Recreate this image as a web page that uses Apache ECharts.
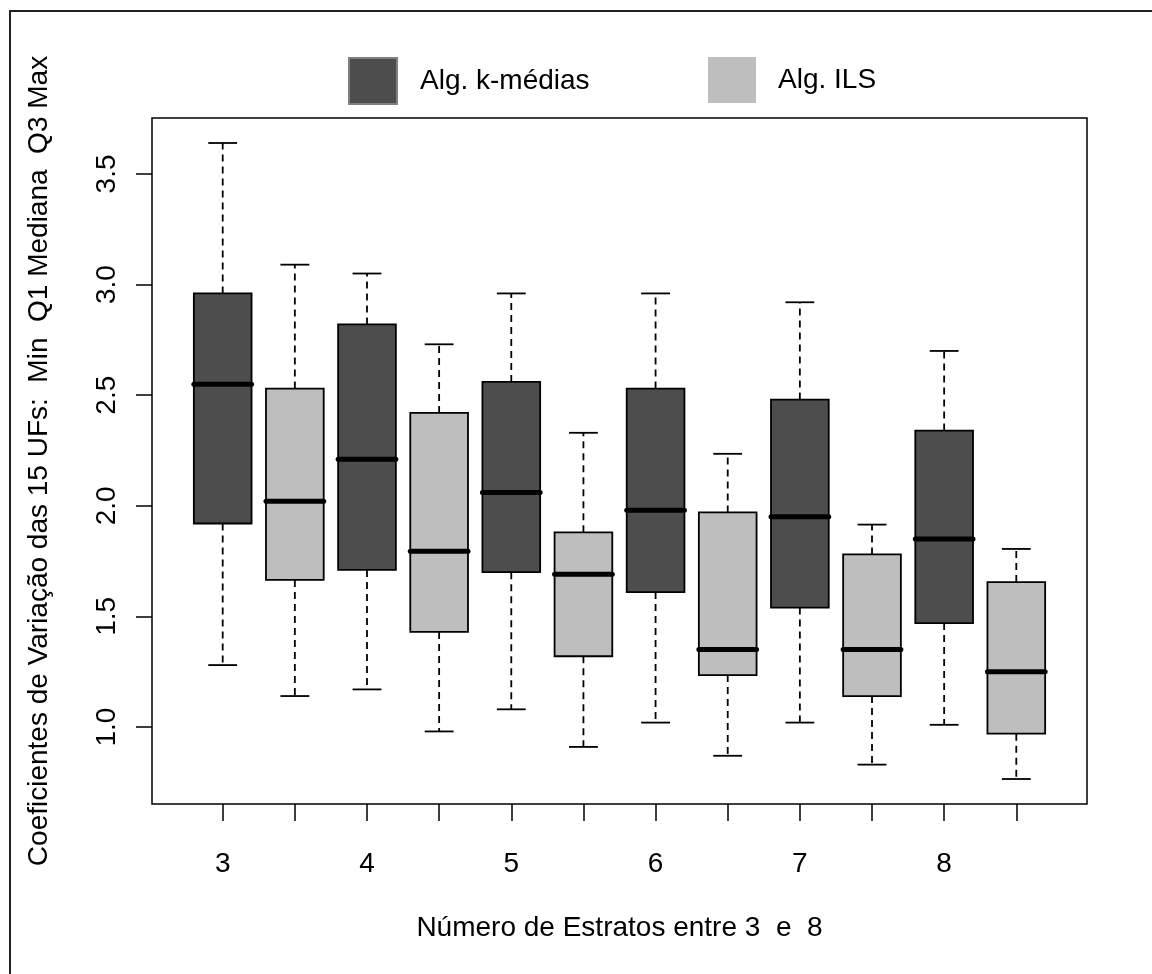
<!DOCTYPE html>
<html>
<head>
<meta charset="utf-8">
<script src="https://cdn.jsdelivr.net/npm/echarts@6/dist/echarts.min.js"></script>
<style>
html,body{margin:0;padding:0;background:#fff;}
#c{width:1152px;height:974px;}
</style>
</head>
<body>
<div id="c"></div>
<script>
// ---- data ----
const categories = ["3", "4", "5", "6", "7", "8"];
const kmMin = [1.28, 1.17, 1.08, 1.02, 1.02, 1.01];
const kmQ1  = [1.92, 1.71, 1.70, 1.61, 1.54, 1.47];
const kmMed = [2.55, 2.21, 2.06, 1.98, 1.95, 1.85];
const kmQ3  = [2.96, 2.82, 2.56, 2.53, 2.48, 2.34];
const kmMax = [3.64, 3.05, 2.96, 2.96, 2.92, 2.70];
const ilsMin = [1.14, 0.98, 0.91, 0.87, 0.83, 0.765];
const ilsQ1  = [1.665, 1.43, 1.32, 1.235, 1.14, 0.97];
const ilsMed = [2.02, 1.795, 1.69, 1.35, 1.35, 1.25];
const ilsQ3  = [2.53, 2.42, 1.88, 1.97, 1.78, 1.655];
const ilsMax = [3.09, 2.73, 2.33, 2.235, 1.915, 1.805];
const yTicks = [1.0, 1.5, 2.0, 2.5, 3.0, 3.5];
const seriesNames = ["Alg. k-médias", "Alg. ILS"];
const yTitle = "Coeficientes de Variação das 15 UFs:  Min  Q1 Mediana  Q3 Max";
const xTitle = "Número de Estratos entre 3  e  8";

// ---- build ----
const boxPositions = [];
for (let i = 1; i <= categories.length * 2; i++) boxPositions.push(i);
const kmData = categories.map((c, i) => [2 * i + 1, kmMin[i], kmQ1[i], kmMed[i], kmQ3[i], kmMax[i]]);
const ilsData = categories.map((c, i) => [2 * i + 2, ilsMin[i], ilsQ1[i], ilsMed[i], ilsQ3[i], ilsMax[i]]);
const labelPositions = categories.map((c, i) => 2 * i + 1);

const FONT = '"Liberation Sans", Arial, sans-serif';
const FS = 28;

function renderBox(params, api) {
  const x = api.value(0);
  const vmin = api.value(1), q1 = api.value(2), med = api.value(3), q3 = api.value(4), vmax = api.value(5);
  const c = (xx, yy) => api.coord([xx, yy]);
  const halfW = 0.4, capW = 0.2;
  const fill = api.visual('color');
  const pL = c(x - halfW, q3), pR = c(x + halfW, q1);
  const dash = { stroke: '#000', lineWidth: 1.8, lineDash: [7, 5] };
  const solid = { stroke: '#000', lineWidth: 1.8 };
  const pMax = c(x, vmax), pQ3 = c(x, q3), pQ1 = c(x, q1), pMin = c(x, vmin);
  const capL1 = c(x - capW, vmax), capR1 = c(x + capW, vmax);
  const capL2 = c(x - capW, vmin), capR2 = c(x + capW, vmin);
  const mL = c(x - halfW, med), mR = c(x + halfW, med);
  return {
    type: 'group',
    children: [
      { type: 'line', shape: { x1: pQ3[0], y1: pQ3[1], x2: pMax[0], y2: pMax[1] }, style: dash },
      { type: 'line', shape: { x1: pQ1[0], y1: pQ1[1], x2: pMin[0], y2: pMin[1] }, style: dash },
      { type: 'line', shape: { x1: capL1[0], y1: capL1[1], x2: capR1[0], y2: capR1[1] }, style: solid },
      { type: 'line', shape: { x1: capL2[0], y1: capL2[1], x2: capR2[0], y2: capR2[1] }, style: solid },
      { type: 'rect', shape: { x: pL[0], y: pL[1], width: pR[0] - pL[0], height: pR[1] - pL[1] },
        style: { fill: fill, stroke: '#000', lineWidth: 1.8 } },
      { type: 'line', shape: { x1: mL[0], y1: mL[1], x2: mR[0], y2: mR[1] },
        style: { stroke: '#000', lineWidth: 5, lineCap: 'round' } }
    ]
  };
}

const chart = echarts.init(document.getElementById('c'), null, { renderer: 'canvas' });
chart.setOption({
  animation: false,
  backgroundColor: '#fff',
  textStyle: { fontFamily: FONT },
  graphic: [
    { type: 'rect', shape: { x: 10, y: 11, width: 1300, height: 1100 },
      style: { fill: 'none', stroke: '#222', lineWidth: 2 }, z: 100 }
  ],
  legend: [
    { data: [seriesNames[0]], left: 343, top: 52, itemWidth: 48, itemHeight: 46, icon: 'rect',
      itemStyle: { borderColor: '#808080', borderWidth: 2 },
      textStyle: { fontSize: FS, color: '#000', fontFamily: FONT, padding: [0, 0, 0, 18] }, selectedMode: false },
    { data: [seriesNames[1]], left: 703, top: 52, itemWidth: 48, itemHeight: 46, icon: 'rect',
      textStyle: { fontSize: FS, color: '#000', fontFamily: FONT, padding: [0, 0, 0, 17] }, selectedMode: false }
  ],
  grid: { left: 152, top: 118, right: 65, bottom: 170, show: true, borderColor: '#000', borderWidth: 1.5, containLabel: false },
  xAxis: {
    type: 'value', min: 0.02, max: 12.98,
    name: xTitle, nameLocation: 'middle', nameGap: 110,
    nameTextStyle: { fontSize: FS, color: '#000', fontFamily: FONT },
    axisLine: { show: false },
    axisTick: { show: true, inside: false, length: 17, customValues: boxPositions, lineStyle: { color: '#000', width: 1.5 } },
    axisLabel: { show: true, customValues: labelPositions, margin: 46, fontSize: FS, color: '#000', fontFamily: FONT,
      formatter: v => categories[Math.round((v - 1) / 2)] },
    splitLine: { show: false }
  },
  yAxis: {
    type: 'value', min: 0.652, max: 3.753,
    name: yTitle, nameLocation: 'middle', nameGap: 99, nameRotate: 90,
    nameTextStyle: { fontSize: FS, color: '#000', fontFamily: FONT },
    axisLine: { show: false },
    axisTick: { show: true, inside: false, length: 16, customValues: yTicks, lineStyle: { color: '#000', width: 1.5 } },
    axisLabel: { show: true, customValues: yTicks, rotate: 90, margin: 31, fontSize: FS, color: '#000', fontFamily: FONT,
      formatter: v => v.toFixed(1) },
    splitLine: { show: false }
  },
  series: [
    { name: seriesNames[0], type: 'custom', renderItem: renderBox, data: kmData,
      itemStyle: { color: '#4d4d4d' }, encode: { x: 0, y: [1, 2, 3, 4, 5] } },
    { name: seriesNames[1], type: 'custom', renderItem: renderBox, data: ilsData,
      itemStyle: { color: '#bebebe' }, encode: { x: 0, y: [1, 2, 3, 4, 5] } }
  ]
});
</script>
</body>
</html>
